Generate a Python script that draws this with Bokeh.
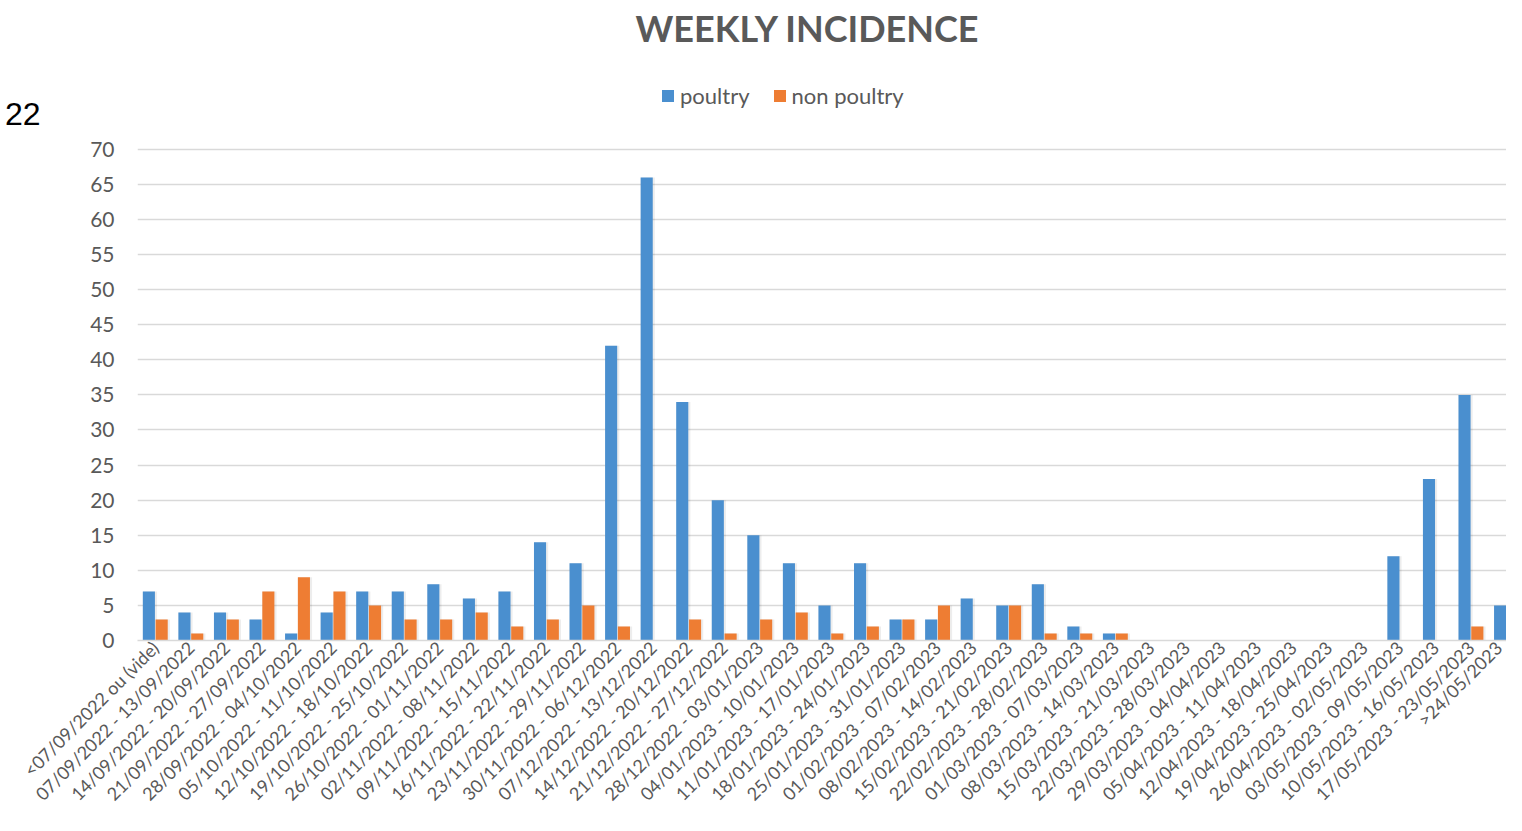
import math
from bokeh.plotting import figure
from bokeh.models import (Range1d, FixedTicker, Legend, LegendItem,
                          ColumnDataSource, LinearAxis)
from bokeh.transform import dodge
from bokeh.embed import file_html
from bokeh.resources import INLINE

weeks = [
    "<07/09/2022 ou (vide)",
    "07/09/2022 - 13/09/2022", "14/09/2022 - 20/09/2022", "21/09/2022 - 27/09/2022",
    "28/09/2022 - 04/10/2022", "05/10/2022 - 11/10/2022", "12/10/2022 - 18/10/2022",
    "19/10/2022 - 25/10/2022", "26/10/2022 - 01/11/2022", "02/11/2022 - 08/11/2022",
    "09/11/2022 - 15/11/2022", "16/11/2022 - 22/11/2022", "23/11/2022 - 29/11/2022",
    "30/11/2022 - 06/12/2022", "07/12/2022 - 13/12/2022", "14/12/2022 - 20/12/2022",
    "21/12/2022 - 27/12/2022", "28/12/2022 - 03/01/2023", "04/01/2023 - 10/01/2023",
    "11/01/2023 - 17/01/2023", "18/01/2023 - 24/01/2023", "25/01/2023 - 31/01/2023",
    "01/02/2023 - 07/02/2023", "08/02/2023 - 14/02/2023", "15/02/2023 - 21/02/2023",
    "22/02/2023 - 28/02/2023", "01/03/2023 - 07/03/2023", "08/03/2023 - 14/03/2023",
    "15/03/2023 - 21/03/2023", "22/03/2023 - 28/03/2023", "29/03/2023 - 04/04/2023",
    "05/04/2023 - 11/04/2023", "12/04/2023 - 18/04/2023", "19/04/2023 - 25/04/2023",
    "26/04/2023 - 02/05/2023", "03/05/2023 - 09/05/2023", "10/05/2023 - 16/05/2023",
    "17/05/2023 - 23/05/2023", ">24/05/2023",
]
poultry = [7, 4, 4, 3, 1, 4, 7, 7, 8, 6, 7, 14, 11, 42, 66, 34, 20, 15, 11, 5,
           11, 3, 3, 6, 5, 8, 2, 1, 0, 0, 0, 0, 0, 0, 0, 12, 23, 35, 5]
non_poultry = [3, 1, 3, 7, 9, 7, 5, 3, 3, 4, 2, 3, 5, 2, 0, 3, 1, 3, 4, 1,
               2, 3, 5, 0, 5, 1, 1, 1, 0, 0, 0, 0, 0, 0, 0, 0, 0, 2, 0]
y_ticks = list(range(0, 75, 5))

BLUE = "#4A8FCF"
ORANGE = "#EE7D33"
GREY = "#595959"
FONT = "Lato"

idx = list(range(len(weeks)))
source = ColumnDataSource(dict(x=idx, poultry=poultry, non_poultry=non_poultry))

# frame reaches up under the title so that the legend can sit above the 70 line
p = figure(width=1506, height=815, output_backend="svg", toolbar_location=None,
           x_range=Range1d(-0.5, 38.0), y_range=Range1d(0, 83.8),
           min_border_left=137, min_border_right=0, min_border_top=0,
           min_border_bottom=0)
p.outline_line_color = None
p.background_fill_color = "white"
p.border_fill_color = "white"

# title
p.title.text = "WEEKLY INCIDENCE"
p.title.align = "left"
p.title.offset = 498
p.title.text_font = FONT
p.title.text_font_size = "36px"
p.title.text_font_style = "bold"
p.title.text_color = GREY
p.title.standoff = 6

# soft shadows behind the bars
for col, off in (("poultry", -0.18), ("non_poultry", 0.18)):
    p.vbar(x=dodge("x", off + 0.03), top=col, width=0.40, source=source,
           fill_color="#000000", fill_alpha=0.07, line_color=None)

r1 = p.vbar(x=dodge("x", -0.18), top="poultry", width=0.34, source=source,
            fill_color=BLUE, line_color=None)
r2 = p.vbar(x=dodge("x", 0.18), top="non_poultry", width=0.34, source=source,
            fill_color=ORANGE, line_color=None)

legend = Legend(items=[LegendItem(label="poultry", renderers=[r1]),
                       LegendItem(label="non poultry", renderers=[r2])],
                orientation="horizontal", location=(523, 531))
legend.label_text_font = FONT
legend.label_text_font_size = "22px"
legend.label_text_color = GREY
legend.glyph_width = 15
legend.glyph_height = 15
legend.label_standoff = 5
legend.spacing = 22
legend.border_line_color = None
legend.background_fill_alpha = 0
legend.margin = 0
legend.padding = 4
p.add_layout(legend)

# axes
p.xgrid.grid_line_color = None
p.ygrid.grid_line_color = "#D9D9D9"
p.ygrid.grid_line_width = 1.5
p.ygrid.ticker = FixedTicker(ticks=y_ticks)

p.yaxis.ticker = FixedTicker(ticks=y_ticks)
p.yaxis.axis_line_color = None
p.yaxis.major_tick_line_color = None
p.yaxis.minor_tick_line_color = None
p.yaxis.major_tick_out = 0
p.yaxis.major_label_standoff = 23
p.yaxis.major_label_text_font = FONT
p.yaxis.major_label_text_font_size = "21px"
p.yaxis.major_label_text_color = GREY

p.xaxis.ticker = FixedTicker(ticks=idx)
p.xaxis.major_label_overrides = {i: w for i, w in enumerate(weeks)}
p.xaxis.major_label_orientation = math.pi / 4
p.xaxis.axis_line_color = "#D9D9D9"
p.xaxis.axis_line_width = 1.5
p.xaxis.major_tick_line_color = None
p.xaxis.minor_tick_line_color = None
p.xaxis.major_tick_out = 0
p.xaxis.major_label_standoff = 4
p.xaxis.major_label_text_font = FONT
p.xaxis.major_label_text_font_size = "18px"
p.xaxis.major_label_text_color = GREY

# clipped fragment of text at the far left of the reference image
frag_axis = LinearAxis(ticker=FixedTicker(ticks=[75]),
                       major_label_overrides={75: "22"})
frag_axis.axis_line_color = None
frag_axis.major_tick_line_color = None
frag_axis.minor_tick_line_color = None
frag_axis.major_tick_out = 0
frag_axis.major_label_standoff = 47
frag_axis.major_label_text_font = "Liberation Sans"
frag_axis.major_label_text_font_size = "32px"
frag_axis.major_label_text_color = "#000000"
p.add_layout(frag_axis, "left")

open("out.html", "w").write(file_html(p, INLINE))
